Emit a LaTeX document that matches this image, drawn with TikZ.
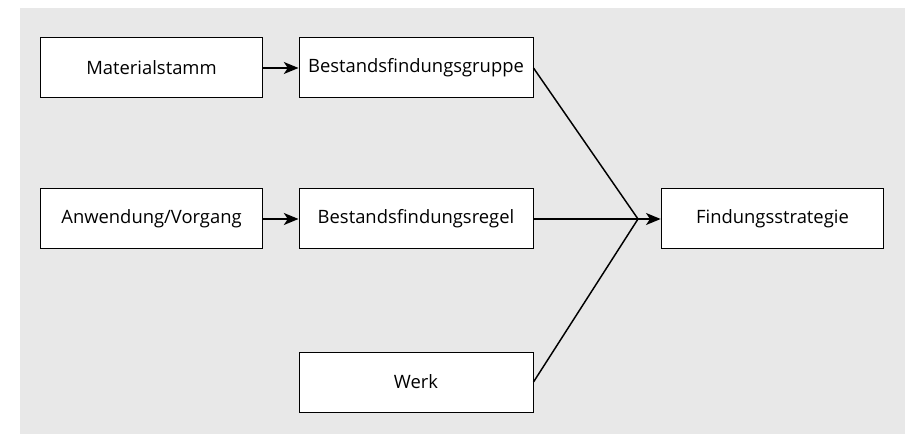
\documentclass[tikz,border=0pt]{standalone}
\usepackage{fontspec}
\setmainfont{Open Sans}
\usepackage{tikz}
\usetikzlibrary{positioning}
\usetikzlibrary{arrows.meta}

\definecolor{bggray}{RGB}{232,232,232}

\tikzset{
    box/.style={draw, fill=white, line width=0.75pt, minimum height=45pt, font=\fontsize{13.8}{16}\selectfont},
    conn/.style={line width=1.1pt},
    pfeil/.style={conn, -{Stealth[length=11pt, width=9pt, inset=3pt]}},
}

\begin{document}
\begin{tikzpicture}[x=0.75pt, y=-0.75pt]
    %Rahmen
    \useasboundingbox (0,0) rectangle (905,434);
    \fill[bggray] (20,8) rectangle (905,434);
    %Materialstamm
    \node[box, minimum width=167pt] at (151.5,68) (mat) {Materialstamm};
    %Bestandsfindungsgruppe
    \node[box, minimum width=175.5pt] at (416,68) (gruppe) {Bestandsfindungsgruppe};
    %Anwendung/Vorgang
    \node[box, minimum width=167pt] at (151.5,219) (anw) {Anwendung/Vorgang};
    %Bestandsfindungsregel
    \node[box, minimum width=175.5pt] at (416,219) (regel) {Bestandsfindungsregel};
    %Werk
    \node[box, minimum width=175.5pt] at (416,382) (werk) {Werk};
    %Findungsstrategie
    \node[box, minimum width=167pt] at (772.5,219) (strat) {Findungsstrategie};
    %Zusammenfuehrung
    \coordinate (join) at (638,219);




    %Materialstamm zu Gruppe
    \draw[pfeil] (mat) -- (gruppe);
    %Anwendung zu Regel
    \draw[pfeil] (anw) -- (regel);
    %Gruppe, Regel, Werk zu Zusammenfuehrung
    \draw[conn] (gruppe.east) -- (join);
    \draw[conn] (regel) -- (join);
    \draw[conn] (werk.east) -- (join);
    %Zusammenfuehrung zu Strategie
    \draw[pfeil] (join) -- (strat);

\end{tikzpicture}
\end{document}
